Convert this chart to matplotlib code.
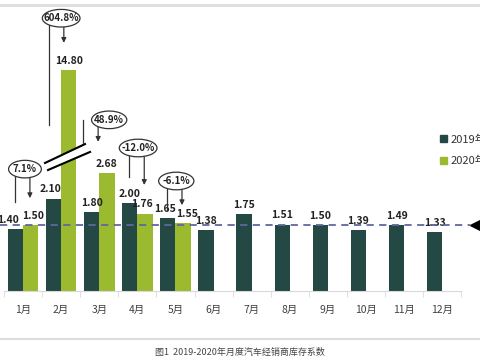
import matplotlib.pyplot as plt
import numpy as np
from matplotlib.patches import Ellipse, Polygon, Patch
from matplotlib.lines import Line2D

plt.rcParams['font.family'] = ['Noto Sans CJK SC', 'DejaVu Sans']

months = ['1月', '2月', '3月', '4月', '5月', '6月', '7月', '8月', '9月', '10月', '11月', '12月']
stock_2019 = [1.40, 2.10, 1.80, 2.00, 1.65, 1.38, 1.75, 1.51, 1.50, 1.39, 1.49, 1.33]
stock_2020 = [1.50, 14.80, 2.68, 1.76, 1.55]
yoy_labels = ['7.1%', '604.8%', '48.9%', '-12.0%', '-6.1%']
warn_line = 1.5
break_cap = 5.02   # the 14.80 bar is cut off at this height

dark = '#244844'
green = '#9cba2f'

fig = plt.figure(figsize=(4.8, 3.6), dpi=100)
ax = fig.add_axes([0, 69 / 360, 1, 291 / 360])
ax.set_xlim(-0.605, 11.99)
ax.set_ylim(0, 6.614)

x = np.arange(len(months))
w = 0.4
x19 = x - w / 2
x20 = x[:len(stock_2020)] + w / 2
shown_2020 = [min(v, break_cap) for v in stock_2020]

ax.bar(x19, stock_2019, w, color=dark, zorder=2)
ax.bar(x20, shown_2020, w, color=green, zorder=2)

# value labels (small sideways nudges where neighbours would touch)
nudge19 = [-5, -2, 0, 0, -2] + [0] * 7
nudge20 = [2, 0, 0, -2, 3]
for xi, v, dx in zip(x19, stock_2019, nudge19):
    ax.annotate('%.2f' % v, (xi, v), xytext=(dx, 3), textcoords='offset points',
                ha='center', va='bottom', fontsize=7.5, fontweight='bold', color='#222222')
for xi, v, s, dx in zip(x20, stock_2020, shown_2020, nudge20):
    ax.annotate('%.2f' % v, (xi, s), xytext=(dx, 3), textcoords='offset points',
                ha='center', va='bottom', fontsize=7.5, fontweight='bold', color='#222222')

# axis break on the Feb 2020 bar
brk = Polygon([(0.576, 2.91), (1.626, 3.34), (1.757, 3.16), (0.655, 2.75)],
              closed=True, facecolor='white', edgecolor='none', zorder=3)
ax.add_patch(brk)
ax.plot([0.576, 1.626], [2.91, 3.34], color='black', lw=1.5, zorder=4)
ax.plot([0.655, 1.757], [2.75, 3.16], color='black', lw=1.5, zorder=4)

# warning line + marker
ax.plot([-0.605, 11.73], [warn_line, warn_line], color='#60679f', lw=1.3,
        ls=(0, (4, 3)), zorder=3, clip_on=False)
ax.plot([11.9], [warn_line], marker='<', color='black', markersize=10, clip_on=False, zorder=5)

# year-on-year callouts: (ellipse x, ellipse y, left line x, left end, arrow x, arrow end)
callouts = [
    (0.05, 2.77, -0.2, 2.02, 0.18, 2.11),
    (1.0, 6.2, 0.68, 3.77, 1.07, 5.64),
    (2.26, 3.89, 1.58, 3.36, 1.97, 3.39),
    (3.02, 3.25, 2.79, 2.59, 3.18, 2.41),
    (4.02, 2.5, 3.78, 1.84, 4.17, 1.95),
]
for lab, (ex, ey, lx, ly, rx, ry) in zip(yoy_labels, callouts):
    ew = 0.6 + 0.065 * len(lab)
    ax.add_patch(Ellipse((ex, ey), ew, 0.4, facecolor='white', edgecolor='#333333',
                         lw=0.9, zorder=6))
    ax.text(ex, ey, lab, ha='center', va='center', fontsize=7, fontweight='bold',
            color='#222222', zorder=7)
    ax.plot([lx, lx], [ey, ly], color='#333333', lw=0.9, zorder=5)
    ax.annotate('', xy=(rx, ry), xytext=(rx, ey), zorder=5,
                arrowprops=dict(arrowstyle='-|>', color='#333333', lw=0.9,
                                mutation_scale=7, shrinkA=0, shrinkB=0))

# axis styling
for s in ['top', 'right', 'left']:
    ax.spines[s].set_visible(False)
ax.spines['bottom'].set_color('#d9d9d9')
ax.spines['bottom'].set_bounds(-0.5, 11.5)
ax.set_yticks([])
ax.set_xticks(x)
ax.set_xticklabels(months, fontsize=7.5, color='#404040')
ax.tick_params(axis='x', which='major', length=0, pad=10)
ax.set_xticks(np.arange(-0.5, 12, 1), minor=True)
ax.tick_params(axis='x', which='minor', length=4, color='#d9d9d9')

handles = [Patch(color=dark), Patch(color=green)]
fig.legend(handles, ['2019年', '2020年'], loc='upper left', bbox_to_anchor=(436 / 480, 1 - 130 / 360),
           frameon=False, fontsize=8, handlelength=0.6, handleheight=0.6, handletextpad=0.3,
           labelspacing=1.0, borderaxespad=0, labelcolor='#333333')

# frame lines and caption
fig.add_artist(Line2D([0, 1], [1 - 5 / 360, 1 - 5 / 360], color='#dddddd', lw=2))
fig.add_artist(Line2D([0, 1], [1 - 339 / 360, 1 - 339 / 360], color='#dddddd', lw=1.5))
fig.text(0.5, 1 - 352 / 360, '图1  2019-2020年月度汽车经销商库存系数', ha='center', va='center',
         fontsize=6.5, color='#444444')

fig.savefig('out.png', dpi=100)
